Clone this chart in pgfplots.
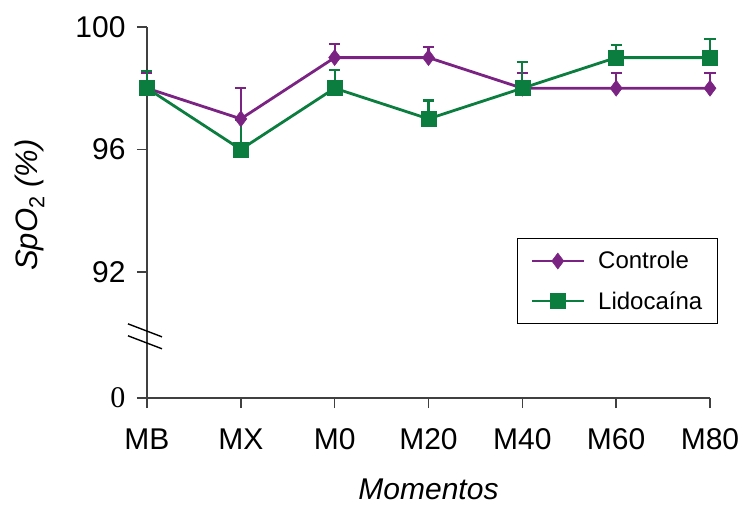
\documentclass[border=0pt]{standalone}
\usepackage{fontspec}
\setmainfont{Liberation Sans}
\newfontfamily\seriffont{Liberation Serif}
\usepackage{pgfplots}
\pgfplotsset{compat=1.18}
\usepackage{pgfplotstable}

\definecolor{ctrl}{HTML}{7B2383}
\definecolor{lido}{HTML}{0B7D3E}
\definecolor{axisgray}{HTML}{404040}

% x: 0=MB 1=MX 2=M0 3=M20 4=M40 5=M60 6=M80 ; err = upper SD
\pgfplotstableread{
x  y   err
0  98  0.50
1  97  1.00
2  99  0.45
3  99  0.35
4  98  0.50
5  98  0.50
6  98  0.50
}\controle
\pgfplotstableread{
x  y   err
0  98  0.55
1  96  0.95
2  98  0.60
3  97  0.60
4  98  0.85
5  99  0.40
6  99  0.60
}\lidocaina

\begin{document}
\begin{tikzpicture}
\begin{axis}[
  name=main,
  at={(0,0)}, anchor=south west,
  scale only axis,
  width=563pt, height=371pt,
  xmin=0, xmax=6,
  ymin=87.88, ymax=100,
  clip=false,
  axis lines=left,
  axis line style={-, axisgray, line width=1.4pt},
  tick style={axisgray, line width=1.4pt},
  tick align=outside,
  major tick length=10pt,
  xtick={0,1,2,3,4,5,6},
  xticklabels={MB,MX,M0,M20,M40,M60,M80},
  ytick={87.88,92,96,100},
  yticklabels={{\seriffont 0},92,96,100},
  /pgf/number format/assume math mode=true,
  every tick label/.append style={font=\fontsize{30}{36}\selectfont, text=black},
  xticklabel style={yshift=-17pt},
  yticklabel style={xshift=-8pt},
  every axis y label/.style={at={(axis description cs:-0.208,0.52)}, rotate=90, anchor=center},
  every axis x label/.style={at={(axis description cs:0.5,0)}, anchor=base, yshift=-101pt},
  ylabel={\fontsize{31}{36}\selectfont\textit{SpO}\textsubscript{2}\textit{ (\%)}},
  xlabel={\fontsize{30}{36}\selectfont\textit{Momentos}},
  legend style={
    at={(axis description cs:0.657,0.431)}, anchor=north west,
    draw=black, line width=1pt,
    font=\fontsize{24}{28}\selectfont,
    row sep=17pt, inner xsep=13pt, inner ysep=11pt,
    /tikz/every odd column/.append style={column sep=11pt},
  },
  legend cell align=left,
  legend image code/.code={
    \draw[mark repeat=2, mark phase=2] plot coordinates {(0pt,0pt) (26pt,0pt) (52pt,0pt)};
  },
]
\addplot[ctrl, line width=2.8pt, mark=diamond*, mark size=8pt,
  mark options={solid, line width=0.5pt},
  error bars/.cd, y dir=plus, y explicit,
  error bar style={line width=2.2pt, ctrl},
  error mark options={rotate=90, mark size=5.5pt, line width=2.2pt, ctrl}]
  table[x=x, y=y, y error=err] {\controle};
\addlegendentry{Controle}
\addplot[lido, line width=2.8pt, mark=square*, mark size=7.5pt,
  mark options={solid, line width=0.5pt},
  error bars/.cd, y dir=plus, y explicit,
  error bar style={line width=2.2pt, lido},
  error mark options={rotate=90, mark size=5.5pt, line width=2.2pt, lido}]
  table[x=x, y=y, y error=err] {\lidocaina};
\addlegendentry{Lidocaína}
% axis break marks
\draw[black, line width=1.4pt] ([xshift=-19pt, yshift=6.5pt]axis cs:0,90.09) -- ([xshift=15pt, yshift=-6.5pt]axis cs:0,90.09);
\draw[black, line width=1.4pt] ([xshift=-19pt, yshift=6.5pt]axis cs:0,89.70) -- ([xshift=15pt, yshift=-6.5pt]axis cs:0,89.70);
\end{axis}
\pgfresetboundingbox
\path[use as bounding box] (-147pt,-108pt) rectangle (597pt,398pt);
\end{tikzpicture}
\end{document}
